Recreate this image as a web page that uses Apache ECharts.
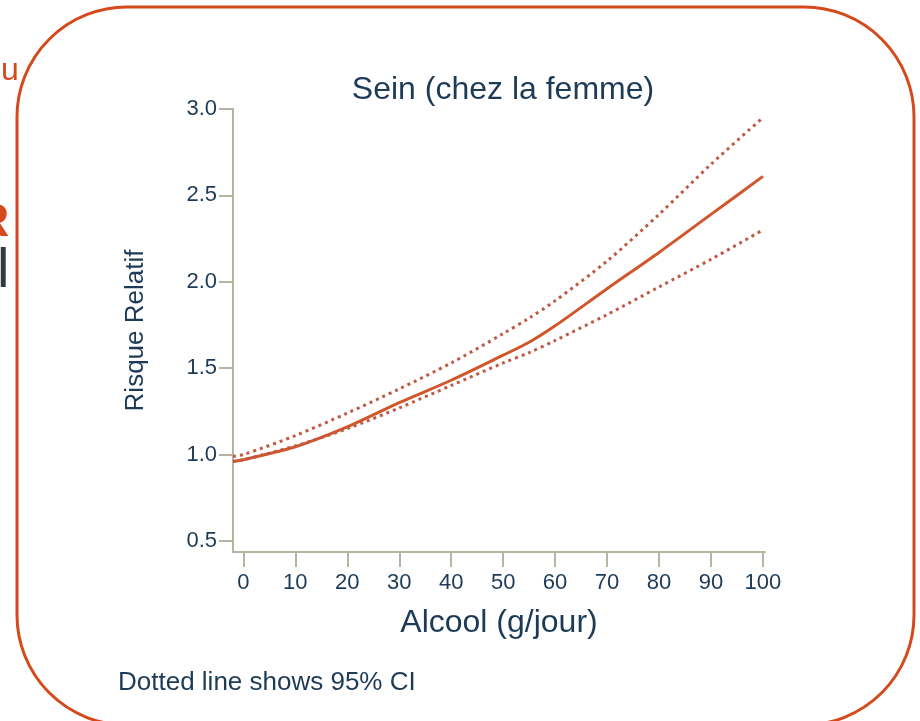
<!DOCTYPE html>
<html>
<head>
<meta charset="utf-8">
<script src="https://cdn.jsdelivr.net/npm/echarts@6/dist/echarts.min.js"></script>
<style>
  html, body { margin: 0; padding: 0; background: #fff; }
  #main { width: 920px; height: 721px; }
</style>
</head>
<body>
<div id="main"></div>
<script>
// valeurs
var alcool = [-2, 0, 10, 20, 30, 40, 50, 55, 60, 70, 80, 90, 100];
var risque = [0.96, 0.97, 1.045, 1.16, 1.30, 1.43, 1.575, 1.65, 1.745, 1.96, 2.17, 2.39, 2.61];
var ciHaut = [0.99, 1.00, 1.11, 1.24, 1.38, 1.53, 1.70, 1.79, 1.89, 2.12, 2.39, 2.68, 2.95];
var ciBas  = [0.96, 0.97, 1.05, 1.15, 1.27, 1.40, 1.53, 1.59, 1.66, 1.81, 1.97, 2.13, 2.30];
var xTicks = [0, 10, 20, 30, 40, 50, 60, 70, 80, 90, 100];
var yTicks = [0.5, 1.0, 1.5, 2.0, 2.5, 3.0];

function pairs(xs, ys) {
    return xs.map(function (x, i) { return [x, ys[i]]; });
}

var textColor = '#1d3a57';
var axisColor = '#b7b5a2';
var font = 'Liberation Sans, Arial, sans-serif';

var myChart = echarts.init(document.getElementById('main'), null, { renderer: 'canvas' });

myChart.setOption({
    animation: false,
    backgroundColor: '#ffffff',
    title: {
        text: 'Sein (chez la femme)',
        left: 498,
        textAlign: 'center',
        top: 69,
        textStyle: { color: textColor, fontSize: 32, fontWeight: 'normal', fontFamily: font }
    },
    grid: { left: 233, right: 155, top: 109, bottom: 169 },
    xAxis: {
        type: 'value',
        min: -2,
        max: 100.4,
        name: 'Alcool (g/jour)',
        nameLocation: 'middle',
        nameGap: 55,
        nameTextStyle: { color: textColor, fontSize: 32, fontFamily: font },
        axisLine: { onZero: false, lineStyle: { color: axisColor, width: 2 } },
        axisTick: { length: 15, lineStyle: { color: axisColor, width: 2 }, customValues: xTicks },
        axisLabel: { color: textColor, fontSize: 22, fontFamily: font, margin: 20, customValues: xTicks },
        splitLine: { show: false }
    },
    yAxis: {
        type: 'value',
        min: 0.436,
        max: 3.0,
        name: 'Risque Relatif',
        nameLocation: 'middle',
        nameGap: 84,
        nameTextStyle: { color: textColor, fontSize: 26, fontFamily: font },
        axisLine: { show: true, onZero: false, lineStyle: { color: axisColor, width: 2 } },
        axisTick: { show: true, length: 14, lineStyle: { color: axisColor, width: 2 }, customValues: yTicks },
        axisLabel: {
            color: textColor, fontSize: 22, fontFamily: font, margin: 16, customValues: yTicks,
            formatter: function (v) { return v.toFixed(1); }
        },
        splitLine: { show: false }
    },
    series: [
        {
            name: 'RR',
            type: 'line',
            smooth: 0.3,
            symbol: 'none',
            data: pairs(alcool, risque),
            lineStyle: { color: '#d2562b', width: 3 },
            z: 3
        },
        {
            name: 'IC haut',
            type: 'line',
            smooth: 0.3,
            symbol: 'none',
            data: pairs(alcool, ciHaut),
            lineStyle: { color: '#bf5a44', width: 3, type: [3, 4] }
        },
        {
            name: 'IC bas',
            type: 'line',
            smooth: 0.3,
            symbol: 'none',
            data: pairs(alcool, ciBas),
            lineStyle: { color: '#bf5a44', width: 3, type: [3, 4] }
        }
    ],
    graphic: [
        {
            type: 'rect',
            shape: { x: 17, y: 7, width: 897, height: 718, r: 110 },
            style: { fill: 'none', stroke: '#d44a1c', lineWidth: 3 },
            silent: true
        },
        {
            type: 'text', left: 118, top: 670,
            style: { text: 'Dotted line shows 95% CI', fill: textColor, font: '26px ' + font }
        },
        {
            type: 'text', left: 1, top: 55,
            style: { text: 'u', fill: '#d44a1c', font: '32px ' + font }
        },
        {
            type: 'text', left: -24, top: 200,
            style: { text: 'R', fill: '#d44a1c', font: 'bold 46px ' + font }
        },
        {
            type: 'text', left: -3, top: 244,
            style: { text: 'l', fill: '#333a40', font: '56px ' + font }
        }
    ]
});
</script>
</body>
</html>
